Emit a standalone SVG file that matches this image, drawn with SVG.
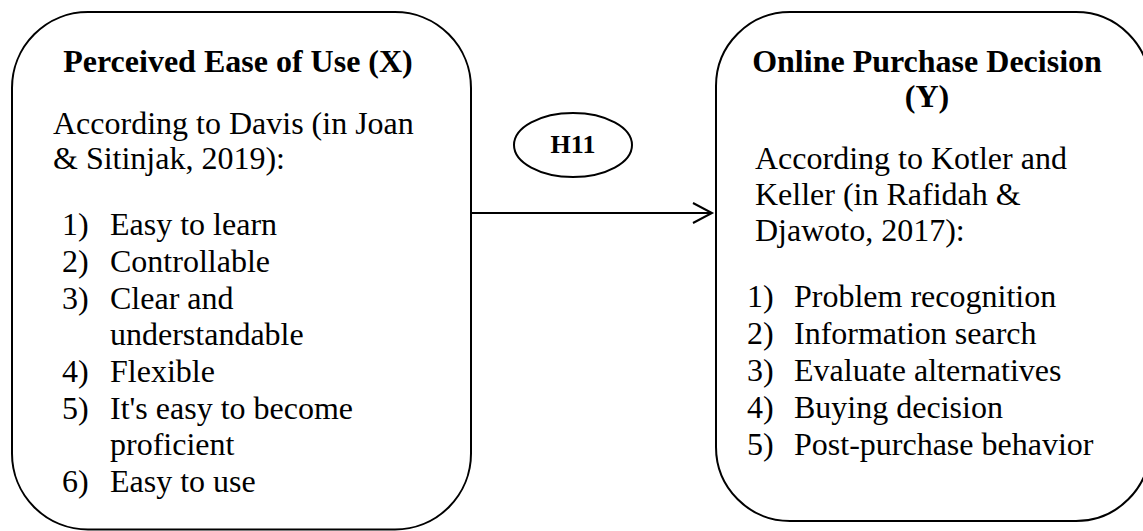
<svg xmlns="http://www.w3.org/2000/svg" width="1143" height="531" viewBox="0 0 1143 531">
<style>
.box{fill:#fff;stroke:#000;stroke-width:2}
.t{font-family:"Liberation Serif","Times New Roman",serif;font-size:32px;fill:#000}
.b{font-weight:bold}
.c{text-anchor:middle}
.ln{fill:none;stroke:#000;stroke-width:2}
</style>
<rect width="1143" height="531" fill="#fff"/>
<g id="node-x">
<rect class="box" x="12" y="12" width="459" height="517.5" rx="76" ry="76"/>
<text class="t b c" x="238" y="72">Perceived Ease of Use (X)</text>
<text class="t" x="53" y="134">According to Davis (in Joan</text>
<text class="t" x="53" y="169">&amp; Sitinjak, 2019):</text>
<text class="t" x="62" y="235">1)</text><text class="t" x="110" y="235">Easy to learn</text>
<text class="t" x="62" y="272">2)</text><text class="t" x="110" y="272">Controllable</text>
<text class="t" x="62" y="308.5">3)</text><text class="t" x="110" y="308.5">Clear and</text>
<text class="t" x="110" y="345">understandable</text>
<text class="t" x="62" y="382">4)</text><text class="t" x="110" y="382">Flexible</text>
<text class="t" x="62" y="418.5">5)</text><text class="t" x="110" y="418.5">It's easy to become</text>
<text class="t" x="110" y="455">proficient</text>
<text class="t" x="62" y="492">6)</text><text class="t" x="110" y="492">Easy to use</text>
</g>
<g id="node-h11">
<ellipse class="ln" cx="573" cy="145" rx="59" ry="32"/>
<text class="t b c" x="573" y="153" style="font-size:26px">H11</text>
</g>
<g id="connectors">
<line class="ln" x1="471" y1="213" x2="712" y2="213"/>
<polyline class="ln" points="693,203 712,213 693,223"/>
</g>
<g id="node-y">
<rect class="box" x="716" y="12" width="434" height="509" rx="74" ry="74"/>
<text class="t b c" x="927" y="72">Online Purchase Decision</text>
<text class="t b c" x="927" y="107">(Y)</text>
<text class="t" x="755" y="169">According to Kotler and</text>
<text class="t" x="755" y="205">Keller (in Rafidah &amp;</text>
<text class="t" x="755" y="241">Djawoto, 2017):</text>
<text class="t" x="747" y="307">1)</text><text class="t" x="794" y="307">Problem recognition</text>
<text class="t" x="747" y="344">2)</text><text class="t" x="794" y="344">Information search</text>
<text class="t" x="747" y="381">3)</text><text class="t" x="794" y="381">Evaluate alternatives</text>
<text class="t" x="747" y="418">4)</text><text class="t" x="794" y="418">Buying decision</text>
<text class="t" x="747" y="455">5)</text><text class="t" x="794" y="455">Post-purchase behavior</text>
</g>
</svg>
